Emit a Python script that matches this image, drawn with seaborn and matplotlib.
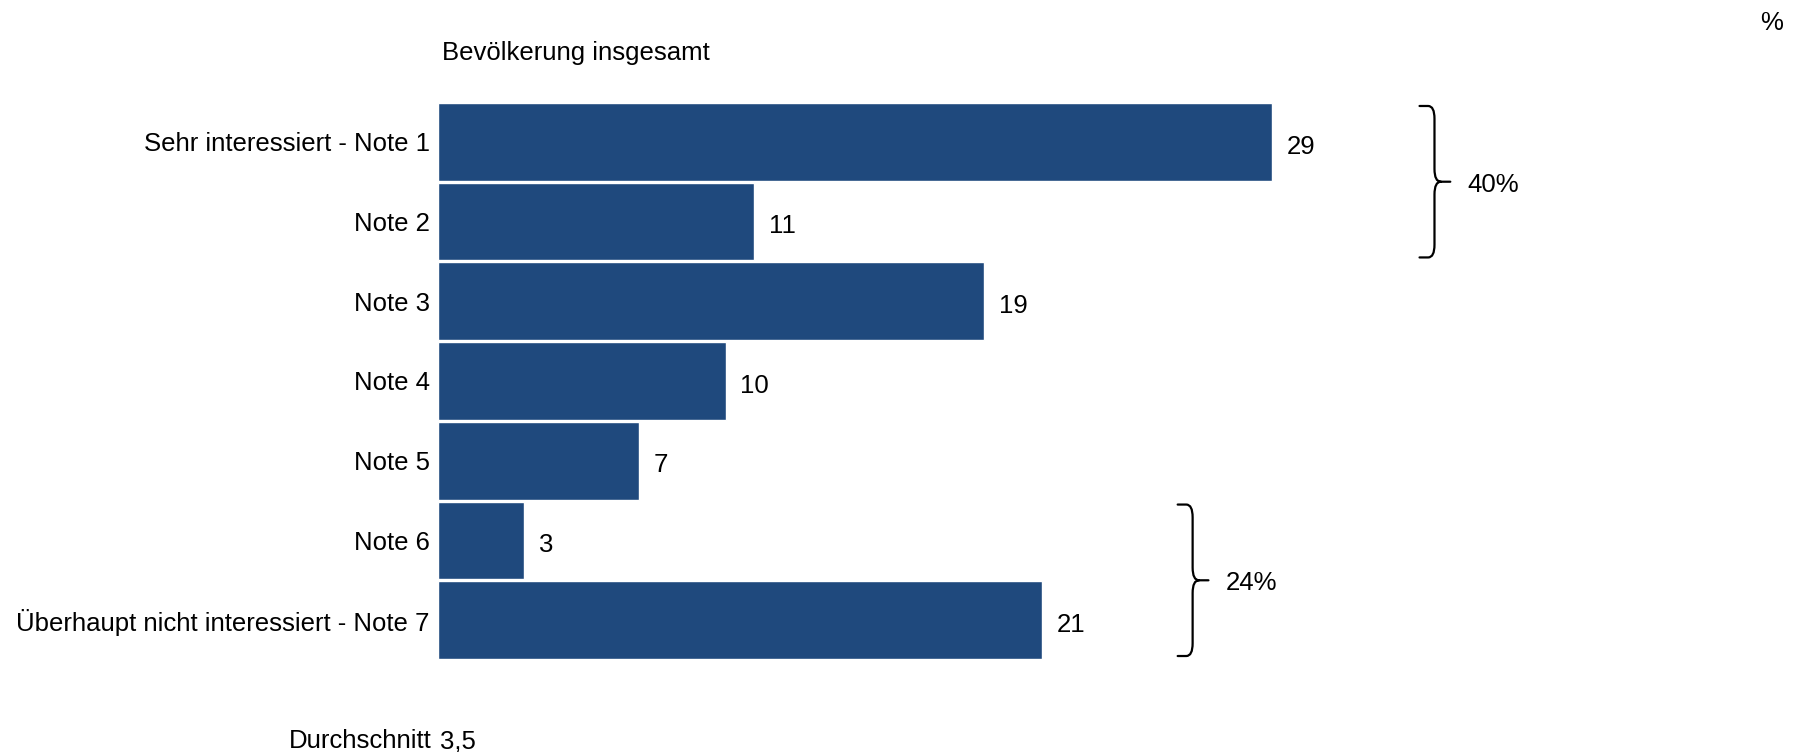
import matplotlib
matplotlib.use("Agg")
import matplotlib.pyplot as plt
import seaborn as sns
import pandas as pd
from matplotlib.path import Path
from matplotlib.patches import PathPatch

categories = ["Sehr interessiert - Note 1", "Note 2", "Note 3", "Note 4",
              "Note 5", "Note 6", "Überhaupt nicht interessiert - Note 7"]
values = [29, 11, 19, 10, 7, 3, 21]
title = "Bevölkerung insgesamt"
bracket_groups = [(0, 1, "40%"), (5, 6, "24%")]
bracket_x = [34.65, 26.24]
average_label = "Durchschnitt"
average_value = "3,5"

sns.set_theme(style="white")
plt.rcParams['font.family'] = ['Liberation Sans', 'DejaVu Sans']
FS = 18.5
BAR = "#1F497D"

fig = plt.figure(figsize=(17.99, 7.52), dpi=100)
W, H = 1799, 752
left_px, right_px = 438, 1780
top_px, bot_px = 102, 660
ax = fig.add_axes([left_px / W, 1 - bot_px / H, (right_px - left_px) / W, (bot_px - top_px) / H])

df = pd.DataFrame({"cat": categories, "val": values})
sns.barplot(data=df, x="val", y="cat", orient="h", color=BAR, saturation=1,
            width=0.975, ax=ax)

ppu = 834 / 29.0
ax.set_xlim(0, (right_px - left_px) / ppu)
ax.set_ylim(6.5, -0.5)
for s in ax.spines.values():
    s.set_visible(False)
ax.set_xticks([])
ax.set_xlabel("")
ax.set_ylabel("")
ax.tick_params(axis="y", length=0, pad=6, labelsize=FS, labelcolor="black")
for lbl in ax.get_yticklabels():
    lbl.set_y(lbl.get_position()[1])

for i, v in enumerate(values):
    ax.text(v + 0.5, i + 0.06, str(v), va="center", ha="left", fontsize=FS, color="black")

# curly brackets
for (a, b, lab), bx in zip(bracket_groups, bracket_x):
    y0 = a - 0.45
    y1 = b + 0.45
    ym = (y0 + y1) / 2
    ser = 0.52
    tip = 0.55
    r = 0.16
    rx = 0.22
    v = [(bx - ser, y0), (bx - rx, y0), (bx, y0), (bx, y0 + r),
         (bx, ym - r), (bx, ym), (bx + rx, ym), (bx + tip, ym),
         (bx + rx, ym), (bx, ym), (bx, ym + r),
         (bx, y1 - r), (bx, y1), (bx - rx, y1), (bx - ser, y1)]
    c = [Path.MOVETO, Path.LINETO, Path.CURVE3, Path.CURVE3,
         Path.LINETO, Path.CURVE3, Path.CURVE3, Path.LINETO,
         Path.MOVETO, Path.CURVE3, Path.CURVE3,
         Path.LINETO, Path.CURVE3, Path.CURVE3, Path.LINETO]
    ax.add_patch(PathPatch(Path(v, c), fill=False, lw=1.6, edgecolor="black",
                           clip_on=False, capstyle="round", joinstyle="round"))
    ax.text(bx + tip + 0.6, ym + 0.04, lab, va="center", ha="left", fontsize=FS, color="black")

fig.text(442 / W, 1 - 53 / H, title, ha="left", va="center", fontsize=FS, color="black")
fig.text(1783 / W, 1 - 23 / H, "%", ha="right", va="center", fontsize=FS, color="black")
fig.text((left_px - 6) / W, 1 - 741 / H, average_label, ha="right", va="center", fontsize=FS, color="black")
fig.text((left_px + 2) / W, 1 - 741 / H, average_value, ha="left", va="center", fontsize=FS, color="black")

fig.savefig("out.png", dpi=100, facecolor="white")
